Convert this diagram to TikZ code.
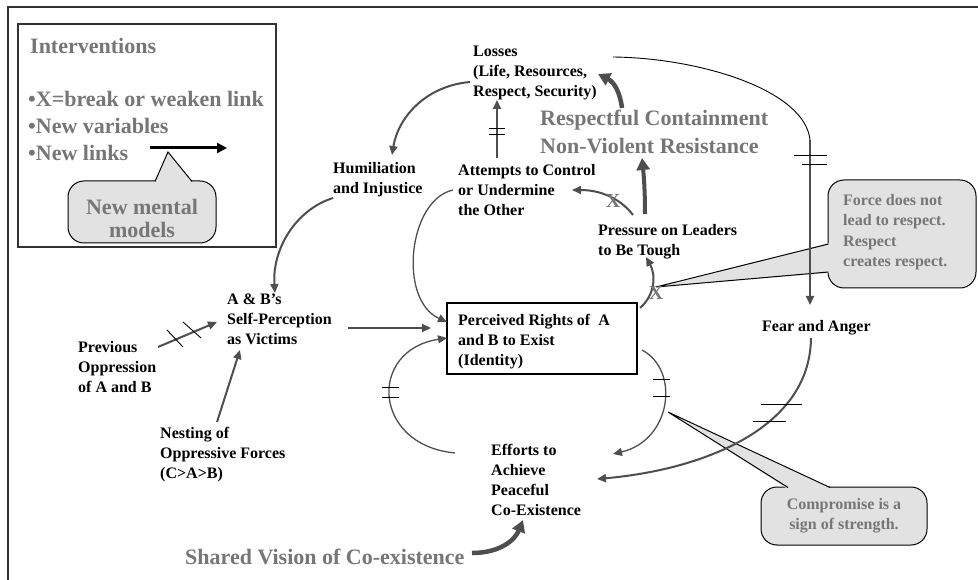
\documentclass[tikz,border=0pt]{standalone}
\usepackage{fontspec}
\setmainfont{Liberation Serif}
\usetikzlibrary{arrows.meta}
\definecolor{tgray}{RGB}{118,118,118}
\definecolor{agray}{RGB}{78,78,78}
\definecolor{cfill}{RGB}{226,226,226}
\definecolor{frm}{RGB}{50,50,50}
\begin{document}
\begin{tikzpicture}[x=1pt,y=-1pt,
  lbl/.style={font=\bfseries\fontsize{16}{20}\selectfont, align=left, inner sep=0pt, anchor=north west},
  gbig/.style={font=\bfseries\fontsize{22}{28}\selectfont, text=tgray, align=left, inner sep=0pt},
  gsmall/.style={font=\bfseries\fontsize{16}{20.5}\selectfont, text=tgray, inner sep=0pt},
  xmark/.style={font=\bfseries\fontsize{20}{24}\selectfont, text=tgray, inner sep=0pt},
  arr/.style={draw=agray, line width=2pt, -{Triangle[length=9pt,width=8pt]}},
  thinarr/.style={draw=agray, line width=1.3pt, -{Triangle[length=9pt,width=8pt]}},
  bigarr/.style={draw=agray, line width=4.5pt, -{Triangle[length=12pt,width=13pt]}},
  hash/.style={draw=black, line width=0.9pt},
  callout/.style={fill=cfill, draw=black, line width=1pt, rounded corners=16pt}
]
\useasboundingbox (0,0) rectangle (978,580);
% outer frame
\draw[frm, line width=1.3pt] (8,580) -- (8,7) -- (978,7);

% interventions box
\draw[frm, line width=1.2pt] (18,24) rectangle (276,247);
\node[gbig, anchor=north west] (intv) at (30,38) {Interventions};
\node[gbig, anchor=north west, font=\bfseries\fontsize{22}{27}\selectfont] (bul) at (28,91) {•X=break or weaken link\\•New variables\\•New links};
\coordinate (nl1) at (150,148);
\coordinate (nl2) at (227,148);
\draw[black, line width=3pt, -{Triangle[length=10pt,width=10pt]}] (nl1) -- (nl2);
% New mental models callout
\draw[callout] (68,181) rectangle (216,243);
\fill[cfill] (154.5,183) -- (168,152) -- (192.5,183) -- cycle;
\draw[black, line width=1pt] (155,181.5) -- (168,152) -- (192,181.5);
\node[gbig, align=center, font=\bfseries\fontsize{22}{23}\selectfont] (nmm) at (142,218) {New mental\\models};

% main nodes
\node[lbl] (losses) at (473,46) {Losses\\(Life, Resources,\\Respect, Security)};
\node[lbl] (humil) at (333,162) {Humiliation\\and Injustice};
\node[lbl] (attempts) at (458,164) {Attempts to Control\\or Undermine\\the Other};
\node[lbl] (pressure) at (598,224) {Pressure on Leaders\\to Be Tough};
\node[lbl] (fear) at (762,320) {Fear and Anger};
\node[lbl] (abself) at (227,294) {A \& B’s\\Self-Perception\\as Victims};
\node[lbl] (prev) at (78,341) {Previous\\Oppression\\of A and B};
\node[lbl] (nesting) at (160,427) {Nesting of\\Oppressive Forces\\(C>A>B)};
\node[lbl] (efforts) at (491,444) {Efforts to\\Achieve\\Peaceful\\Co-Existence};
\draw[black, line width=1.2pt] (447,303) rectangle (637,374);
\node[lbl] (rights) at (458,314) {Perceived Rights of \ A\\and B to Exist\\(Identity)};

% gray intervention texts
\node[gbig, anchor=north west] (resp) at (540,110) {Respectful Containment\\Non-Violent Resistance};
\node[gbig, anchor=west] (shared) at (185,557) {Shared Vision of Co-existence};

% Force callout
\draw[callout] (828,180) rectangle (976,288);
\fill[cfill] (829.5,243) -- (656,287) -- (829.5,273) -- cycle;
\draw[black, line width=1pt] (828.5,244) -- (656,287) -- (828.5,272);
\node[gsmall, align=left, anchor=north west] (force) at (843,194) {Force does not\\lead to respect.\\Respect\\creates respect.};

% Compromise callout
\draw[callout] (761,487) rectangle (927,545);
\fill[cfill] (787,488.5) -- (668,412) -- (831,488.5) -- cycle;
\draw[black, line width=1pt] (788,487.5) -- (668,412) -- (830,487.5);
\node[gsmall, align=center, font=\bfseries\fontsize{16}{20}\selectfont] (comp) at (844,516) {Compromise is a\\sign of strength.};

% connectors
% Losses -> Humiliation
\draw[arr] (470,82) .. controls (425,86) and (398,118) .. (392,155);
% Attempts -> Losses
\draw[arr] (497,158) -- (497,100);
\draw[hash] (489,128) -- (505,128);
\draw[hash] (489,134) -- (505,134);
% Respectful Containment arrow
\draw[bigarr] (622,108) .. controls (620,92) and (614,82) .. (598,74);
% Non-violent resistance arrow
\draw[bigarr, line width=4pt] (645,214) .. controls (645,192) and (644,178) .. (642,158);
% Pressure -> Attempts
\draw[arr] (633,215) .. controls (620,198) and (600,190) .. (572,190);
\node[xmark] (x1) at (613,201) {X};
% Perceived -> Pressure
\draw[arr] (640,308) .. controls (655,295) and (656,275) .. (646,257);
\node[xmark] (x2) at (656,293) {X};
% Attempts -> Perceived
\draw[thinarr] (453,190) .. controls (408,200) and (398,300) .. (447,322);
% Self-perception -> Perceived
\draw[arr] (348,328) -- (431,328);
% Humiliation -> A&B
\draw[arr] (333,198) .. controls (295,210) and (272,250) .. (275,293);
% Previous -> A&B
\draw[arr] (158,347) -- (217,322);
\draw[hash] (167,330) -- (183,347);
\draw[hash] (183,322) -- (201,338);
% Nesting -> A&B
\draw[arr] (217,422) -- (240,350);
% Efforts -> Perceived
\draw[thinarr] (455,453) .. controls (372,445) and (368,350) .. (447,338);
\draw[hash] (382,387) -- (399,387);
\draw[hash] (382,397) -- (399,397);
% Perceived -> Efforts
\draw[thinarr] (642,350) .. controls (680,370) and (672,440) .. (613,454);
\draw[hash] (653,379) -- (670,379);
\draw[hash] (653,396) -- (670,396);
% Fear -> Efforts
\draw[arr] (811,338) .. controls (810,430) and (700,470) .. (597,479);
\draw[hash] (761,404) -- (802,404);
\draw[hash] (753,421) -- (786,421);
% Losses -> Fear
\coordinate (lf) at (810,140);
\draw[black, line width=0.9pt] (613,57) .. controls (700,58) and (805,90) .. (lf);
\draw[arr] (lf) -- (810,305);
\draw[hash] (794,155) -- (827,155);
\draw[hash] (802,164) -- (827,164);
% Shared vision -> Efforts
\draw[bigarr] (472,553) .. controls (500,553) and (515,540) .. (523,520);
\end{tikzpicture}
\end{document}
